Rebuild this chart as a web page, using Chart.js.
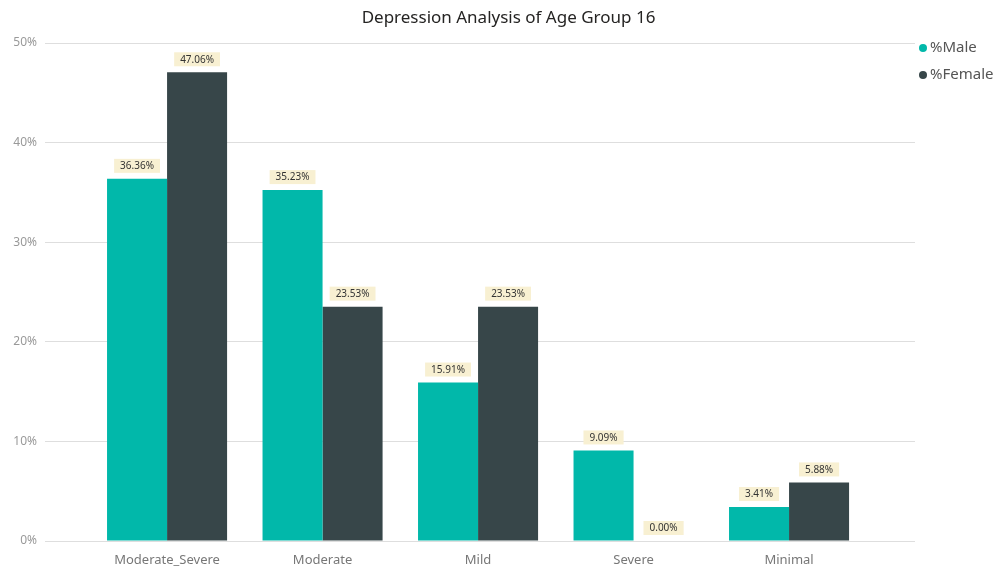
<!DOCTYPE html>
<html>
<head>
<meta charset="utf-8">
<script src="https://cdn.jsdelivr.net/npm/chart.js@4.4.1/dist/chart.umd.min.js"></script>
<style>
  html, body { margin: 0; padding: 0; background: #fff; }
  #wrap { width: 997px; height: 566px; }
</style>
</head>
<body>
<div id="wrap"><canvas id="chart"></canvas></div>
<script>
const categories = ["Moderate_Severe", "Moderate", "Mild", "Severe", "Minimal"];
const maleValues = [36.36, 35.23, 15.91, 9.09, 3.41];
const femaleValues = [47.06, 23.53, 23.53, 0.00, 5.88];
const seriesNames = ["%Male", "%Female"];
const seriesColors = ["#01B8AA", "#374649"];
const yTicks = [0, 10, 20, 30, 40, 50];
const chartTitle = "Depression Analysis of Age Group 16";

const FONT = "'Noto Sans', 'Open Sans', sans-serif";

// value labels with a pale box above each bar
const barLabels = {
    id: "barLabels",
    afterDatasetsDraw(chart) {
        const ctx = chart.ctx;
        ctx.save();
        ctx.font = "10px " + FONT;
        ctx.textAlign = "center";
        ctx.textBaseline = "middle";
        chart.data.datasets.forEach((ds, di) => {
            const meta = chart.getDatasetMeta(di);
            meta.data.forEach((bar, i) => {
                const text = ds.data[i].y.toFixed(2) + "%";
                const w = ctx.measureText(text).width + 12;
                const h = 14;
                const cy = bar.y - 6 - h / 2;
                ctx.fillStyle = "#f8f0d2";
                ctx.fillRect(bar.x - w / 2, cy - h / 2, w, h);
                ctx.fillStyle = "#333";
                ctx.fillText(text, bar.x, cy + 0.5);
            });
        });
        ctx.restore();
    },
};

// title and legend drawn by hand so they sit where the original has them
const header = {
    id: "header",
    afterDraw(chart) {
        const ctx = chart.ctx;
        ctx.save();
        ctx.font = "17px " + FONT;
        ctx.textAlign = "center";
        ctx.textBaseline = "middle";
        ctx.fillStyle = "#252423";
        ctx.fillText(chartTitle, chart.width / 2 + 10, 18);

        const x = chart.chartArea.right + 2;
        ctx.font = "15px " + FONT;
        ctx.textAlign = "left";
        chart.data.datasets.forEach((ds, i) => {
            const y = 48 + i * 27;
            ctx.fillStyle = ds.backgroundColor;
            ctx.beginPath();
            ctx.arc(x + 6, y, 4, 0, Math.PI * 2);
            ctx.fill();
            ctx.fillStyle = "#555";
            ctx.fillText(ds.label, x + 13, y);
        });
        ctx.restore();
    },
};

new Chart(document.getElementById("chart"), {
    type: "bar",
    data: {
        datasets: [
            {
                label: seriesNames[0],
                data: maleValues.map((v, i) => ({ x: i, y: v })),
                backgroundColor: seriesColors[0],
            },
            {
                label: seriesNames[1],
                data: femaleValues.map((v, i) => ({ x: i, y: v })),
                backgroundColor: seriesColors[1],
            },
        ],
    },
    options: {
        responsive: true,
        maintainAspectRatio: false,
        animation: false,
        categoryPercentage: 0.772,
        barPercentage: 1.0,
        layout: { padding: { left: 0, right: 82, top: 43, bottom: 0 } },
        plugins: {
            legend: { display: false },
            tooltip: { enabled: false },
            title: { display: false },
        },
        scales: {
            x: {
                type: "linear",
                offset: false,
                min: -0.785,
                max: 4.81,
                grid: { display: false },
                border: { display: false },
                afterBuildTicks: (scale) => {
                    scale.ticks = categories.map((c, i) => ({ value: i }));
                },
                afterFit: (scale) => { scale.height = 25; },
                ticks: {
                    padding: 3,
                    color: "#777",
                    font: { family: FONT, size: 13 },
                    maxRotation: 0,
                    autoSkip: false,
                    callback: (v) => categories[v],
                },
            },
            y: {
                min: 0,
                max: 50,
                afterBuildTicks: (scale) => {
                    scale.ticks = yTicks.map((v) => ({ value: v }));
                },
                afterFit: (scale) => { scale.width = 45; },
                grid: { color: "#dedede", drawTicks: false },
                border: { display: false },
                ticks: {
                    padding: 8,
                    color: "#999",
                    font: { family: FONT, size: 12 },
                    callback: (v) => v + "%",
                },
            },
        },
    },
    plugins: [barLabels, header],
});
</script>
</body>
</html>
